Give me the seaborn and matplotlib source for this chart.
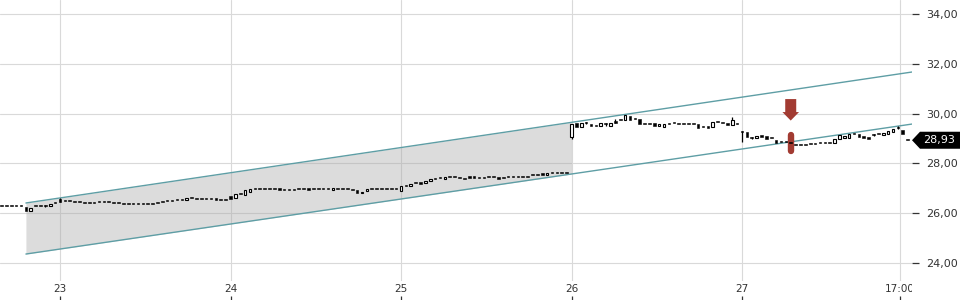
import numpy as np
import pandas as pd
import matplotlib
matplotlib.use("Agg")
import matplotlib.pyplot as plt
import seaborn as sns
from matplotlib.transforms import Bbox, TransformedBbox, blended_transform_factory
from matplotlib.patches import Polygon

# ---------------- data ----------------
x_tick_pos = [23, 24, 25, 26, 27, 27.927]
x_tick_labels = ["23", "24", "25", "26", "27", "17:00"]
y_ticks = [24, 26, 28, 30, 32, 34]
bars_per_day = 35

# day 22 : bars 23..34 of the session
close_22 = [26.28, 26.28, 26.29, 26.30, 26.27, 26.08, 26.20, 26.27, 26.27, 26.30, 26.38, 26.42]
open_22 = [None, None, None, 26.34, None, 26.25, 26.07, None, None, None, 26.30, None]

close_23 = [26.45, 26.48, 26.47, 26.46, 26.46, 26.41, 26.40, 26.41, 26.45, 26.45, 26.43, 26.40,
            26.40, 26.36, 26.37, 26.38, 26.38, 26.38, 26.37, 26.37, 26.39, 26.44, 26.48, 26.48,
            26.51, 26.54, 26.62, 26.62, 26.58, 26.56, 26.56, 26.57, 26.55, 26.53, 26.52]
open_23 = [26.56, None, None, 26.49, None, None, None, None, 26.48, 26.48, None, 26.43,
           None, 26.40, None, None, None, None, None, None, None, 26.47, None, None,
           None, None, 26.53, None, None, None, None, None, None, 26.56, None]

close_24 = [26.58, 26.76, 26.77, 26.92, 26.97, 26.97, 26.97, 26.97, 26.98, 26.97, 26.95, 26.93,
            26.93, 26.94, 26.97, 26.97, 26.95, 26.96, 26.96, 26.96, 26.98, 27.00, 26.98, 26.98,
            26.98, 26.93, 26.80, 26.87, 26.96, 26.98, 26.98, 26.98, 26.98, 26.98, 26.98]
open_24 = [26.70, 26.60, None, 26.74, 26.86, 27.00, None, None, None, None, 26.98, None,
           None, 26.97, None, None, 26.98, None, None, None, None, 26.94, None, None,
           None, None, 26.93, 26.80, 26.88, None, None, None, None, None, None]

close_25 = [27.09, 27.09, 27.16, 27.20, 27.19, 27.30, 27.39, 27.37, 27.42, 27.45, 27.44, 27.44,
            27.42, 27.38, 27.43, 27.43, 27.41, 27.42, 27.45, 27.45, 27.38, 27.41, 27.44, 27.44,
            27.44, 27.44, 27.46, 27.52, 27.52, 27.55, 27.62, 27.60, 27.60, 27.62, 27.60]
open_25 = [26.90, None, 27.08, None, 27.24, 27.20, 27.31, 27.42, None, 27.38, None, None,
           None, 27.42, None, None, 27.44, None, None, None, 27.44, None, None, None,
           None, None, None, None, None, None, 27.52, None, 27.65, None, None]

close_26 = [29.58, 29.46, 29.63, 29.62, 29.50, 29.50, 29.63, 29.57, 29.63, 29.64, 29.74, 29.94,
            29.74, 29.77, 29.58, 29.58, 29.58, 29.50, 29.60, 29.58, 29.58, 29.61, 29.58, 29.58,
            29.58, 29.58, 29.41, 29.45, 29.41, 29.66, 29.66, 29.63, 29.53, 29.74, 29.58]
open_26 = [29.07, 29.61, 29.48, None, 29.60, 29.55, 29.52, None, 29.52, 29.69, None, 29.74,
           29.90, None, 29.77, None, None, 29.61, 29.49, 29.45, None, None, None, None,
           None, None, 29.58, None, 29.50, 29.45, None, None, 29.63, 29.53, None]

close_27 = [29.25, 29.07, 29.02, 29.11, 29.04, 28.99, 29.01, 28.80, 28.85, 28.85, 28.80, 28.75,
            28.74, 28.75, 28.77, 28.78, 28.80, 28.80, 28.80, 28.98, 29.14, 29.11, 29.17, 29.17,
            29.07, 29.00, 28.98, 29.14, 29.17, 29.23, 29.30, 29.37, 29.41, 29.17, 28.93]
open_27 = [29.30, 29.27, None, 29.00, 29.14, 29.09, None, 28.95, None, None, 28.86, None,
           None, None, None, None, None, None, None, 28.81, 28.98, 29.02, 29.01, None,
           29.19, 29.11, 29.06, None, None, 29.14, 29.20, 29.28, None, 29.34, None]

# wick extremes (low, high) for the bars that show one
wicks = {(22, 32): (26.26, 26.34), (23, 0): (26.44, 26.62), (26, 0): (28.99, 29.60),
         (26, 3): (29.57, 29.67), (26, 7): (29.52, 29.62), (26, 9): (29.63, 29.78),
         (26, 33): (29.53, 29.87), (27, 0): (28.86, 29.31), (27, 2): (28.97, 29.07),
         (27, 27): (29.09, 29.19), (27, 32): (29.39, 29.50)}

# trend channel
channel_x = [22.80, 27.997]
channel_upper = [26.41, 31.67]
channel_lower = [24.36, 29.58]
shade_end = 26.0

signal_bar = (27, 10)
last_price = 28.93
last_label = "28,93"

# ---------------- build table ----------------
sessions = [(22, 23, close_22, open_22), (23, 0, close_23, open_23), (24, 0, close_24, open_24),
            (25, 0, close_25, open_25), (26, 0, close_26, open_26), (27, 0, close_27, open_27)]
rows = []
for day, k0, closes, opens in sessions:
    for i, (c, o) in enumerate(zip(closes, opens)):
        k = k0 + i
        lo, hi = wicks.get((day, k), (np.nan, np.nan))
        rows.append(dict(day=day, k=k, x=day + k / bars_per_day,
                         open=c if o is None else o, close=c, low=lo, high=hi))
df = pd.DataFrame(rows)
chan = pd.DataFrame({"x": channel_x, "upper": channel_upper, "lower": channel_lower})

# ---------------- figure ----------------
sns.set_style("white")
plt.rcParams["font.family"] = ["DejaVu Sans"]
fig = plt.figure(figsize=(9.6, 3.0), dpi=100)
ax = fig.add_axes([0, 19 / 300, 912 / 960, 281 / 300])

xmin, xmax = 22.648, 27.997
ymin, ymax = 23.277, 34.562
ax.set_xlim(xmin, xmax)
ax.set_ylim(ymin, ymax)
px_x = (xmax - xmin) / 912
px_y = (ymax - ymin) / 281

grid_c = "#d9d9d9"
for v in x_tick_pos:
    ax.axvline(v, color=grid_c, lw=0.8, zorder=0)
for v in y_ticks:
    ax.axhline(v, color=grid_c, lw=0.8, zorder=0)

# shaded channel area
sx = np.array([channel_x[0], shade_end])
su = np.interp(sx, channel_x, channel_upper)
sl = np.interp(sx, channel_x, channel_lower)
ax.fill_between(sx, sl, su, color="#a9a9a9", alpha=0.4, lw=0, zorder=1)

teal = "#5e9ea5"
sns.lineplot(data=chan, x="x", y="upper", color=teal, lw=1.0, ax=ax, zorder=2)
sns.lineplot(data=chan, x="x", y="lower", color=teal, lw=1.0, ax=ax, zorder=2)

# signal highlight
red = "#a23b32"
sig = df[(df.day == signal_bar[0]) & (df.k == signal_bar[1])].iloc[0]
ax.plot([sig.x, sig.x], [28.50, 29.14], color=red, lw=4.6, solid_capstyle="round", zorder=3)
tip = 29.72
shaft_w, head_w, head_l, total_l = 5.5, 8.3, 8.5, 21.5
arrow_pts = [(0, 0), (-head_w, head_l), (-shaft_w, head_l), (-shaft_w, total_l),
             (shaft_w, total_l), (shaft_w, head_l), (head_w, head_l)]
ax.fill([sig.x + dx * px_x for dx, dy in arrow_pts], [tip + dy * px_y for dx, dy in arrow_pts],
        color=red, lw=0, zorder=3)

# candles
w = 2.6 * px_x
min_h = 1.2 * px_y
wk = df.dropna(subset=["low"])
ax.vlines(wk.x, wk.low, wk.high, color="black", lw=0.9, zorder=4)
body_lo = np.minimum(df.open, df.close)
body_h = np.maximum(np.abs(df.close - df.open), min_h)
up = df.close > df.open + 1e-9
ax.bar(df.x[up], body_h[up], bottom=body_lo[up], width=w, color="white", edgecolor="black",
       lw=0.8, zorder=5)
ax.bar(df.x[~up], body_h[~up], bottom=body_lo[~up], width=w, color="black", edgecolor="black",
       lw=0.4, zorder=5)

# axes styling
for s in ax.spines.values():
    s.set_visible(False)
ax.set_xlabel("")
ax.set_ylabel("")
ax.set_xticks(x_tick_pos)
ax.set_xticklabels(x_tick_labels)
ax.set_yticks(y_ticks)
ax.set_yticklabels([f"{v:.2f}".replace(".", ",") for v in y_ticks])
ax.yaxis.tick_right()
ax.tick_params(axis="y", direction="out", length=5, width=0.9, color="#333333",
               labelsize=8, labelcolor="#333333", pad=5)
ax.tick_params(axis="x", length=0, labelsize=7.5, labelcolor="#333333", pad=2.5)
clip = TransformedBbox(Bbox([[0, 0], [912 / 960, 1]]), fig.transFigure)
for lab in ax.get_xticklabels():
    lab.set_clip_on(True)
    lab.set_clip_box(clip)
bt = blended_transform_factory(ax.transData, ax.transAxes)
ax.vlines(x_tick_pos, -0.052, -0.07, transform=bt, color="#333333", lw=0.9, clip_on=False)

# last price tag
ft = blended_transform_factory(fig.transFigure, ax.transData)
hh = 8.5 * px_y
tag = Polygon([(912 / 960, last_price), (920 / 960, last_price + hh), (1.0, last_price + hh),
               (1.0, last_price - hh), (920 / 960, last_price - hh)],
              closed=True, transform=ft, fc="black", ec="none", clip_on=False)
fig.add_artist(tag)
fig.text(923 / 960, last_price, last_label, transform=ft, color="white", fontsize=8,
         ha="left", va="center")

fig.savefig("out.png", dpi=100)
